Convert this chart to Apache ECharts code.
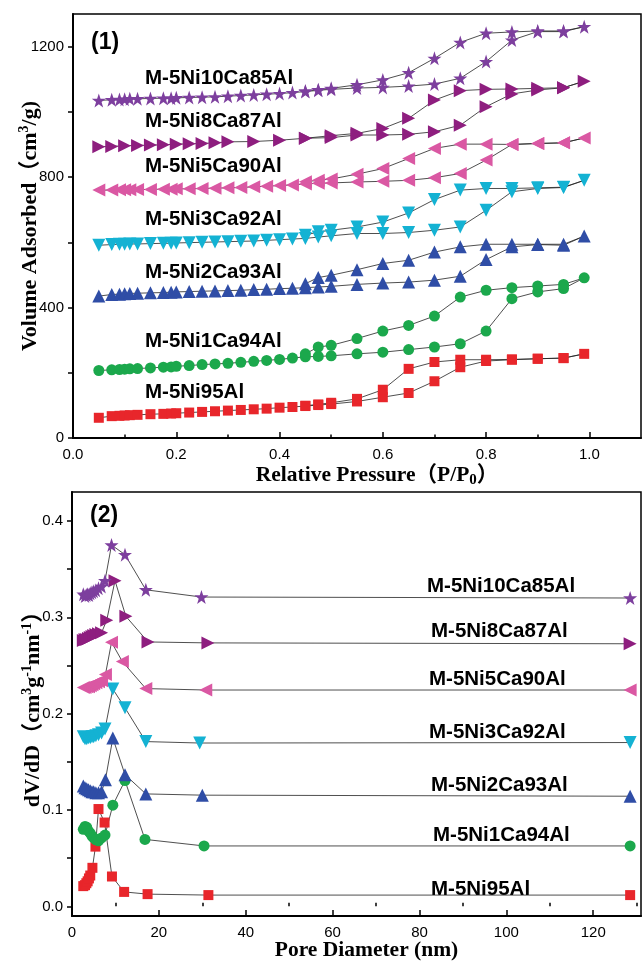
<!DOCTYPE html>
<html><head><meta charset="utf-8">
<script src="https://cdn.jsdelivr.net/npm/echarts@6.0.0/dist/echarts.min.js"></script>
<style>html,body{margin:0;padding:0;background:#fff}#c{width:644px;height:964px}</style>
</head><body><div id="c"></div><script>
// ---------- Panel (1): N2 isotherms ----------
const pAds = [0.05,0.075,0.09,0.1,0.11,0.125,0.15,0.175,0.19,0.2,0.225,0.25,0.275,0.3,0.325,0.35,0.375,0.4,0.425,0.45,0.475,0.5,0.55,0.6,0.65,0.7,0.75,0.8,0.85,0.9,0.95,0.99];
const pDes = [0.95,0.9,0.85,0.8,0.75,0.7,0.65,0.6,0.55,0.5,0.475,0.45];
const pAdsSparse = [0.05,0.075,0.1,0.125,0.15,0.175,0.2,0.225,0.25,0.275,0.3,0.35,0.4,0.45,0.5,0.55,0.6,0.65,0.7,0.75,0.8,0.85,0.9,0.95,0.99];
const pDesSparse = [0.95,0.9,0.85,0.8,0.75,0.7,0.65,0.6,0.55,0.5,0.45];

const adsNi95 = [62,67,68,69,70,71,73,74,75,76,78,80,82,84,86,88,90,93,95,98,101,104,112,125,138,174,217,236,240,243,245,258];
const desNi95 = [245,243,241,240,240,233,212,148,120,108,103,99];
const adsNi1 = [207,209,210,211,212,213,215,217,218,220,222,225,227,229,232,235,238,241,245,249,250,252,258,263,271,279,289,328,427,448,458,491];
const desNi1 = [471,466,461,453,432,374,345,328,305,284,279,258];
const adsNi2 = [435,440,441,442,443,444,445,446,447,448,449,450,451,452,453,455,456,458,459,461,463,465,471,475,478,484,496,547,586,593,591,619];
const desNi2 = [594,594,594,594,586,570,545,535,516,499,492,473];
const adsNi3 = [591,593,594,594,595,595,596,597,597,598,599,600,601,602,603,604,606,608,610,612,616,620,627,627,630,637,647,698,755,765,768,790];
const desNi3 = [769,767,765,765,760,731,690,662,647,637,632,622];
const adsNi5 = [760,760,761,761,761,762,762,763,763,764,764,765,766,767,768,770,772,774,776,779,781,782,785,787,790,798,811,852,900,903,905,920];
const desNi5 = [905,903,900,901,901,888,857,826,809,794,790,786];
const adsNi8 = [893,894,896,897,898,899,901,902,903,905,908,909,913,919,921,929,929,931,939,959,1016,1055,1067,1074,1094];
const desNi8 = [1074,1072,1070,1069,1065,1036,980,949,934,927,919];
const adsNi10 = [1035,1037,1038,1039,1040,1040,1041,1042,1042,1043,1044,1045,1046,1048,1050,1052,1054,1056,1059,1062,1066,1069,1073,1075,1079,1085,1103,1154,1220,1246,1246,1261];
const desNi10 = [1248,1248,1245,1241,1213,1164,1120,1098,1083,1072,1068,1064];

// ---------- Panel (2): BJH pore size distribution ----------
const dNi10 = [2.6,3.0,3.3,3.6,3.9,4.2,4.6,5.0,5.5,6.1,6.8,7.6,9.1,12.2,17.0,29.8,128.5];
const vNi10 = [0.324,0.322,0.323,0.324,0.323,0.325,0.326,0.327,0.328,0.330,0.332,0.338,0.375,0.365,0.3285,0.321,0.320];
const dNi8 = [2.6,3.0,3.4,3.8,4.2,4.6,5.0,5.5,6.1,6.8,8.0,9.9,12.4,17.5,31.3,128.5];
const vNi8 = [0.276,0.277,0.277,0.278,0.279,0.280,0.281,0.282,0.283,0.284,0.297,0.338,0.301,0.2744,0.2734,0.2725];
const dNi5 = [2.6,3.0,3.4,3.8,4.2,4.6,5.0,5.5,6.1,6.8,7.7,9.1,11.6,17.0,30.8,128.5];
const vNi5 = [0.227,0.227,0.228,0.228,0.229,0.230,0.231,0.232,0.233,0.234,0.2407,0.274,0.254,0.226,0.2245,0.2245];
const dNi3 = [2.6,3.0,3.4,3.8,4.2,4.6,5.0,5.5,6.1,6.8,7.6,9.4,12.2,17.0,29.4,128.5];
const vNi3 = [0.176,0.174,0.174,0.175,0.175,0.176,0.176,0.177,0.178,0.180,0.184,0.2255,0.206,0.171,0.1695,0.170];
const dNi2 = [2.6,3.0,3.4,3.8,4.2,4.6,5.0,5.5,6.1,6.8,7.7,9.4,12.2,17.0,30.0,128.5];
const vNi2 = [0.125,0.123,0.122,0.121,0.120,0.119,0.119,0.118,0.118,0.119,0.1315,0.1746,0.1367,0.1167,0.1154,0.1143];
const dNi1 = [2.6,3.0,3.4,3.8,4.2,4.6,5.0,5.5,6.1,6.8,7.6,9.4,12.2,16.8,30.4,128.5];
const vNi1 = [0.080,0.083,0.082,0.078,0.076,0.073,0.071,0.069,0.068,0.071,0.074,0.105,0.1305,0.0695,0.0627,0.0627];
const dNi95 = [2.6,3.0,3.3,3.6,3.9,4.2,4.7,5.4,6.1,7.5,9.2,12.0,17.4,31.4,128.5];
const vNi95 = [0.021,0.022,0.024,0.026,0.029,0.032,0.040,0.062,0.101,0.087,0.031,0.015,0.0127,0.0117,0.0117];

const sampleNames = ['M-5Ni10Ca85Al','M-5Ni8Ca87Al','M-5Ni5Ca90Al','M-5Ni3Ca92Al','M-5Ni2Ca93Al','M-5Ni1Ca94Al','M-5Ni95Al'];
const xTicks1 = [0,0.2,0.4,0.6,0.8,1.0];
const xMinor1 = [0.1,0.3,0.5,0.7,0.9];
const yTicks1 = [0,200,400,600,800,1000,1200];
const yLabels1 = [0,400,800,1200];
const xTicks2 = [0,20,40,60,80,100,120];
const xMinor2 = [10,30,50,70,90,110,130];
const yTicks2 = [0,0.05,0.1,0.15,0.2,0.25,0.3,0.35,0.4];
const yLabels2 = [0,0.1,0.2,0.3,0.4];

const STAR = 'path://M12,0.8 L14.7,8.6 L23,8.6 L16.3,13.5 L18.8,21.4 L12,16.6 L5.2,21.4 L7.7,13.5 L1,8.6 L9.3,8.6 Z';
const styles = [
  {symbol: STAR, rot: 0, size: 14, color: '#7D3F9E'},
  {symbol: 'triangle', rot: -90, size: 13, color: '#8E1E7F'},
  {symbol: 'triangle', rot: 90, size: 13, color: '#DA58A3'},
  {symbol: 'triangle', rot: 180, size: 13, color: '#14B2D3'},
  {symbol: 'triangle', rot: 0, size: 13, color: '#2F4DA6'},
  {symbol: 'circle', rot: 0, size: 11, color: '#1BA84C'},
  {symbol: 'rect', rot: 0, size: 10, color: '#E8262B'}
];

function zip(xs, ys){ return xs.map((x,i)=>[x, ys[i]]); }
const iso = [
  zip(pAds, adsNi10).concat(zip(pDes, desNi10)),
  zip(pAdsSparse, adsNi8).concat(zip(pDesSparse, desNi8)),
  zip(pAds, adsNi5).concat(zip(pDes, desNi5)),
  zip(pAds, adsNi3).concat(zip(pDes, desNi3)),
  zip(pAds, adsNi2).concat(zip(pDes, desNi2)),
  zip(pAds, adsNi1).concat(zip(pDes, desNi1)),
  zip(pAds, adsNi95).concat(zip(pDes, desNi95))
];
const psd = [zip(dNi10,vNi10), zip(dNi8,vNi8), zip(dNi5,vNi5), zip(dNi3,vNi3), zip(dNi2,vNi2), zip(dNi1,vNi1), zip(dNi95,vNi95)];

const SANS = '"Liberation Sans", Arial, sans-serif';
const SERIF = '"Liberation Serif", "Times New Roman", "Noto Sans CJK SC", serif';

function mkSeries(data, st, gi){
  return {
    type: 'line', data: data, xAxisIndex: gi*2, yAxisIndex: gi,
    symbol: st.symbol, symbolRotate: st.rot, symbolSize: st.size,
    showAllSymbol: true, animation: false,
    lineStyle: {color: '#222', width: 0.8},
    itemStyle: {color: st.color, borderWidth: 0}
  };
}
const series = [];
for (let i = 6; i >= 0; i--) series.push(mkSeries(iso[i], styles[i], 0));
for (let i = 6; i >= 0; i--) series.push(mkSeries(psd[i], styles[i], 1));

const labelStyle = {color: '#000', fontFamily: SANS, fontSize: 15};
function richFor(fs){
  return {
    sup: {fontFamily: SERIF, fontWeight: 'bold', fontSize: Math.round(fs*0.62), lineHeight: 12, verticalAlign: 'top', color: '#000'},
    sub: {fontFamily: SERIF, fontWeight: 'bold', fontSize: Math.round(fs*0.68), lineHeight: 12, verticalAlign: 'bottom', color: '#000'}
  };
}
function baseX(gi, min, max, ticks, labels, fmt, name, nameGap, fs, padLeft){
  return {
    type: 'value', gridIndex: gi, min: min, max: max, position: 'bottom',
    axisLine: {show: true, onZero: false, lineStyle: {color: '#000', width: 2}},
    axisTick: {show: true, inside: true, length: 6, customValues: ticks, lineStyle: {color: '#000', width: 1.5}},
    axisLabel: Object.assign({customValues: labels, formatter: fmt, margin: 9}, labelStyle),
    splitLine: {show: false},
    name: name, nameLocation: 'middle', nameGap: nameGap, nameMoveOverlap: false,
    nameTextStyle: {fontFamily: SERIF, fontWeight: 'bold', fontSize: fs, color: '#000', lineHeight: 26,
      padding: [0, 0, 0, padLeft], rich: richFor(fs)}
  };
}
function minorX(gi, min, max, ticks){
  return {
    type: 'value', gridIndex: gi, min: min, max: max, position: 'bottom', offset: 0,
    axisLine: {show: false}, axisLabel: {show: false}, splitLine: {show: false},
    axisTick: {show: true, inside: true, length: 3.5, customValues: ticks, lineStyle: {color: '#000', width: 1.5}}
  };
}
function baseY(gi, min, max, ticks, labels, fmt, name, nameGap, fs){
  return {
    type: 'value', gridIndex: gi, min: min, max: max,
    axisLine: {show: true, onZero: false, lineStyle: {color: '#000', width: 2}},
    axisTick: {show: true, inside: false, length: 5, customValues: ticks, lineStyle: {color: '#000', width: 1.5}},
    axisLabel: Object.assign({customValues: labels, formatter: fmt, margin: 9}, labelStyle),
    splitLine: {show: false},
    name: name, nameLocation: 'middle', nameGap: nameGap, nameRotate: 90, nameMoveOverlap: false,
    nameTextStyle: {fontFamily: SERIF, fontWeight: 'bold', fontSize: fs, color: '#000', lineHeight: 26, rich: richFor(fs)}
  };
}

const topLabelY = [79, 122, 167, 220, 273, 342, 393];
const botLabelX = [427, 431, 429, 429, 431, 433, 431];
const botLabelY = [587, 632, 680, 733, 786, 836, 890];
const graphics = [];
sampleNames.forEach((n, i) => {
  graphics.push({type: 'text', left: 145, top: topLabelY[i] - 11, silent: true,
    style: {text: n, font: 'bold 20.5px ' + SANS, fill: '#000'}});
  graphics.push({type: 'text', left: botLabelX[i], top: botLabelY[i] - 11, silent: true,
    style: {text: n, font: 'bold 20.5px ' + SANS, fill: '#000'}});
});
graphics.push({type: 'text', left: 91, top: 31, silent: true, style: {text: '(1)', font: 'bold 23px ' + SANS, fill: '#000'}});
graphics.push({type: 'text', left: 90, top: 504, silent: true, style: {text: '(2)', font: 'bold 23px ' + SANS, fill: '#000'}});

const option = {
  animation: false,
  backgroundColor: '#fff',
  grid: [
    {left: 73, top: 14, right: 3, height: 424, show: true, borderColor: '#000', borderWidth: 1.5, containLabel: false},
    {left: 72, top: 492, right: 3, height: 427, show: true, borderColor: '#000', borderWidth: 1.5, containLabel: false}
  ],
  xAxis: [
    baseX(0, 0, 1.1, xTicks1, xTicks1, v => v.toFixed(1), 'Relative Pressure\uFF08P/P{sub|0}\uFF09', 24, 21.5, 40),
    minorX(0, 0, 1.1, xMinor1),
    baseX(1, 0, 131, xTicks2, xTicks2, v => String(v), 'Pore Diameter (nm)', 21, 21.5, 20),
    minorX(1, 0, 131, xMinor2)
  ],
  yAxis: [
    baseY(0, 0, 1300, yTicks1, yLabels1, v => String(v), 'Volume Adsorbed\uFF08cm{sup|3}/g)', 30, 22),
    baseY(1, -0.01, 0.43, yTicks2, yLabels2, v => v.toFixed(1), 'dV/dD\uFF08cm{sup|3}g{sup|-1}nm{sup|-1}\uFF09', 26, 22)
  ],
  series: series,
  graphic: graphics
};
const chart = echarts.init(document.getElementById('c'), null, {renderer: 'canvas'});
chart.setOption(option);
</script></body></html>
